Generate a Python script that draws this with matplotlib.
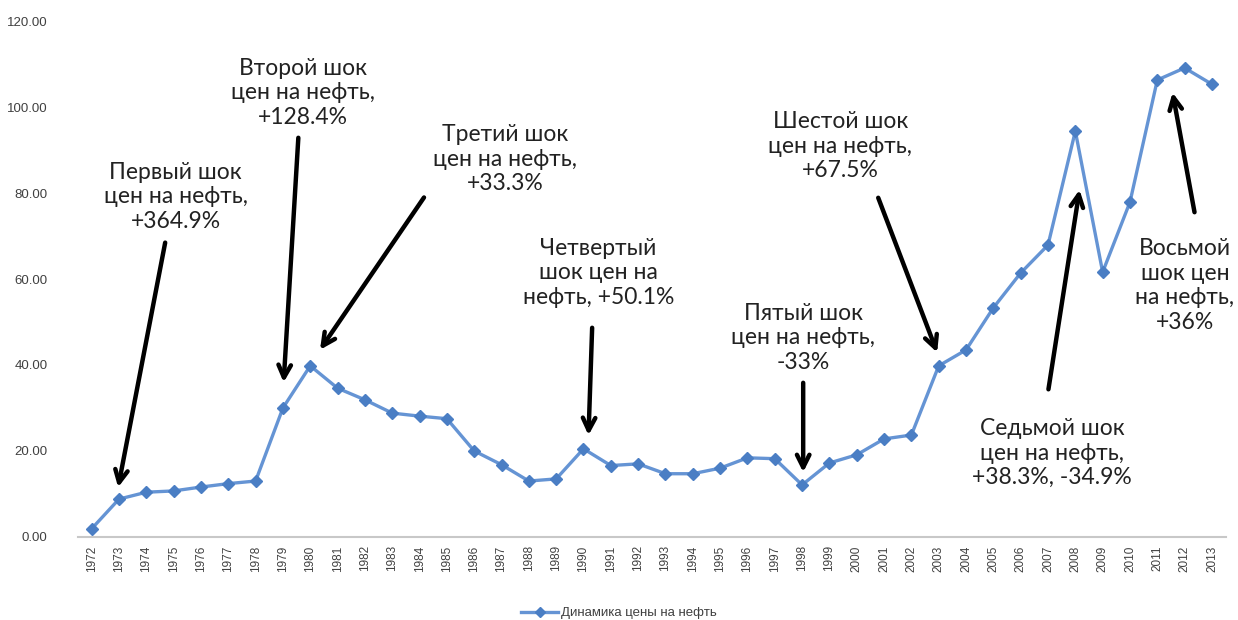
import matplotlib.pyplot as plt

plt.rcParams['font.family'] = ['Lato', 'DejaVu Sans']

years = list(range(1972, 2014))
prices = [1.9, 8.8, 10.4, 10.7, 11.6, 12.4, 13.0, 30.0, 39.8, 34.6,
          31.9, 28.8, 28.1, 27.5, 20.0, 16.8, 13.0, 13.5, 20.5, 16.6,
          17.0, 14.7, 14.7, 16.0, 18.4, 18.2, 12.1, 17.2, 19.1, 22.8,
          23.7, 39.8, 43.5, 53.3, 61.4, 67.9, 94.4, 61.6, 77.9, 106.3,
          109.1, 105.3]

# shock labels: text, text position, arrow tail, arrow tip (data coords)
shocks = [
    ('Первый шок\nцен на нефть,\n+364.9%', (1975.07, 79.1), (1974.71, 69.1), (1972.95, 10.9)),
    ('Второй шок\nцен на нефть,\n+128.4%', (1979.72, 103.3), (1979.57, 93.5), (1979.02, 35.3)),
    ('Третий шок\nцен на нефть,\n+33.3%', (1987.14, 87.9), (1984.22, 79.5), (1980.30, 43.0)),
    ('Четвертый\nшок цен на\nнефть, +50.1%', (1990.54, 61.4), (1990.32, 49.3), (1990.18, 23.0)),
    ('Пятый шок\nцен на нефть,\n-33%', (1998.04, 46.3), (1998.04, 36.5), (1998.04, 14.4)),
    ('Шестой шок\nцен на нефть,\n+67.5%', (1999.40, 90.9), (2000.75, 79.5), (2002.98, 42.3)),
    ('Седьмой шок\nцен на нефть,\n+38.3%, -34.9%', (2007.15, 19.5), (2007.00, 33.7), (2008.17, 81.4)),
    ('Восьмой\nшок цен\nна нефть,\n+36%', (2012.01, 58.5), (2012.38, 74.9), (2011.54, 104.0)),
]

small = ['Liberation Sans', 'DejaVu Sans']

fig = plt.figure(figsize=(12.38, 6.2), dpi=100)
ax = fig.add_axes([0.063, 0.134, 0.927, 0.832])

ax.plot(years, prices, color='#6594d4', lw=2.4, marker='D', markersize=6.5,
        markerfacecolor='#4a7ec4', markeredgecolor='#4a7ec4',
        label='Динамика цены на нефть')

for text, tpos, tail, tip in shocks:
    ax.text(tpos[0], tpos[1], text, ha='center', va='center', fontsize=16.5,
            color='#222222', linespacing=1.22)
    ax.annotate('', xy=tip, xytext=tail,
                arrowprops=dict(arrowstyle='->,head_length=0.9,head_width=0.45',
                                color='black', lw=3.2))

ax.set_xlim(1971.5, 2013.5)
ax.set_ylim(0, 120)
ax.set_xticks(years)
ax.set_xticklabels([str(y) for y in years], rotation=90, fontsize=8.5,
                   color='#404040', family=small)
ax.set_yticks(range(0, 121, 20))
ax.set_yticklabels(['%.2f' % v for v in range(0, 121, 20)], fontsize=9.5,
                   color='#404040', family=small)
ax.tick_params(axis='y', length=0, pad=22)
ax.tick_params(axis='x', length=0, pad=6)
for s in ['top', 'right', 'left']:
    ax.spines[s].set_visible(False)
ax.spines['bottom'].set_color('#c8c8c8')
ax.spines['bottom'].set_linewidth(1.5)

fig.legend(loc='lower center', bbox_to_anchor=(0.5, -0.018), frameon=False,
           prop={'family': small, 'size': 9.5}, labelcolor='#404040',
           handlelength=2.8, handletextpad=0.2, markerscale=0.8)

fig.savefig('out.png', dpi=100, facecolor='white')
